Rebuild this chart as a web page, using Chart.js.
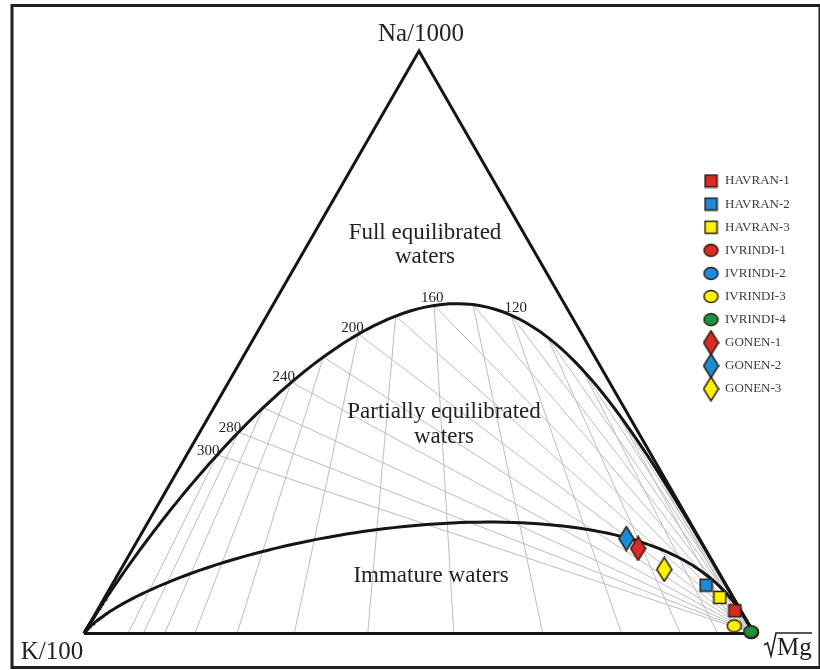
<!DOCTYPE html>
<html lang="en">
<head>
<meta charset="UTF-8">
<title>Na-K-Mg ternary diagram</title>
<script src="https://cdn.jsdelivr.net/npm/chart.js"></script>
<style>
  html, body { margin: 0; padding: 0; background: #fff; }
  canvas { display: block; }
</style>
</head>
<body>
<canvas id="ternary" width="820" height="670"></canvas>
<script>
// Samples, as percent of (Na/1000 + K/100 + sqrt(Mg))
const sampleNames = ['HAVRAN-1', 'HAVRAN-2', 'HAVRAN-3', 'IVRINDI-1', 'IVRINDI-2',
                     'IVRINDI-3', 'IVRINDI-4', 'GONEN-1', 'GONEN-2', 'GONEN-3'];
const sampleNa = [3.9, 8.3, 6.2, 0.2, 0.2, 1.3, 0.3, 14.6, 16.3, 11.0];
const sampleK  = [0.9, 3.0, 2.0, 0.3, 0.3, 2.3, 0.3, 10.0, 10.9, 7.9];
const sampleMg = [95.2, 88.7, 91.8, 99.5, 99.5, 96.4, 99.4, 75.4, 72.8, 81.1];

// isotherms (deg C) and the ones that carry a label
const isotherms = [40, 60, 80, 100, 120, 140, 160, 180, 200, 220, 240, 260, 280, 300];
const labelledTemps = [120, 160, 200, 240, 280, 300];

// Giggenbach (1988) geothermometers
//   t_kn = 1390 / (1.75 + log(Na/K)) - 273.15
//   t_km = 4410 / (14.0 - log(K2/Mg)) - 273.15
const KN_A = 1390, KN_B = 1.75, KM_A = 4410, KM_B = 14.0;
const MI_IMMATURE = 1.92;   // maturity index along the immature-waters boundary

const logNaK = t => KN_A / (t + 273.15) - KN_B;
const logK2Mg = t => KM_B - KM_A / (t + 273.15);

const H = 50 * Math.sqrt(3);
// (Na/1000, K/100, sqrtMg) -> x,y in a triangle K(0,0) Mg(100,0) Na(50,H)
function toXY(na, k, mg) {
  const s = na + k + mg;
  return { x: 100 * (mg + na / 2) / s, y: H * na / s };
}
// point for a given log(Na/K) and log(K2/Mg), taking K = 1
function fromLogs(lnk, lkm) {
  return toXY(Math.pow(10, lnk) / 1000, 1 / 100, 1 / Math.sqrt(Math.pow(10, lkm)));
}
const fullPoint = t => fromLogs(logNaK(t), logK2Mg(t));
const immaturePoint = t => fromLogs(logNaK(t), (MI_IMMATURE - logNaK(t)) / 0.315);
const kmBase = t => toXY(0, 1 / 100, 1 / Math.sqrt(Math.pow(10, logK2Mg(t))));

const vK = { x: 0, y: 0 }, vMg = { x: 100, y: 0 }, vNa = { x: 50, y: H };

const curveTemps = [];
for (let t = 6000; t > 1000; t -= 50) curveTemps.push(t);
for (let t = 1000; t > 400; t -= 10) curveTemps.push(t);
for (let t = 400; t >= 0; t -= 4) curveTemps.push(t);

// marker bitmaps, shared by the plot and the legend
function marker(shape, fill) {
  const c = document.createElement('canvas');
  const g = c.getContext('2d');
  if (shape === 'square') { c.width = 15; c.height = 15; }
  else if (shape === 'circle') { c.width = 17; c.height = 15; }
  else { c.width = 17; c.height = 26; }
  g.fillStyle = fill;
  g.strokeStyle = '#2b1e12';
  g.lineWidth = 1.5;
  g.beginPath();
  if (shape === 'square') g.rect(1.5, 1.5, 12, 12);
  else if (shape === 'circle') g.ellipse(8.5, 7.5, 7, 6, 0, 0, Math.PI * 2);
  else { g.moveTo(8.5, 1); g.lineTo(16, 13); g.lineTo(8.5, 25); g.lineTo(1, 13); g.closePath(); }
  g.fill();
  g.stroke();
  return c;
}
const RED = '#dc2a25', BLUE = '#1c8bd8', YELLOW = '#fff200', GREEN = '#1a9340';
const markers = [
  marker('square', RED), marker('square', BLUE), marker('square', YELLOW),
  marker('circle', RED), marker('circle', BLUE), marker('circle', YELLOW), marker('circle', GREEN),
  marker('diamond', RED), marker('diamond', BLUE), marker('diamond', YELLOW)
];

const line = (data, color, width, order, join) => ({
  data, showLine: true, borderColor: color, borderWidth: width,
  borderJoinStyle: join || 'round', borderCapStyle: 'butt',
  pointRadius: 0, fill: false, clip: false, order
});

const datasets = [];
isotherms.forEach(t => {
  const p = fullPoint(t);
  datasets.push(line([p, kmBase(t)], '#bdbdbd', 1, 40));
  datasets.push(line([p, vMg], '#bdbdbd', 1, 40));
});
datasets.push(line([vK, ...curveTemps.map(fullPoint), vMg], '#151515', 3, 20));
datasets.push(line([vK, ...curveTemps.map(immaturePoint), vMg], '#151515', 3, 20));
datasets.push(line([vK, vMg, vNa, vK], '#151515', 3, 15, 'miter'));
sampleNames.forEach((name, i) => {
  datasets.push({
    label: name,
    data: [toXY(sampleNa[i], sampleK[i], sampleMg[i])],
    pointStyle: markers[i],
    pointRadius: 8,
    clip: false,
    order: name === 'IVRINDI-4' ? 0 : 1
  });
});

const decorations = {
  id: 'decorations',
  beforeDraw(chart) {
    const ctx = chart.ctx;
    ctx.save();
    ctx.fillStyle = '#fff';
    ctx.fillRect(0, 0, chart.width, chart.height);
    ctx.restore();
  },
  afterDraw(chart) {
    const { ctx } = chart;
    const sx = chart.scales.x, sy = chart.scales.y;
    const px = p => ({ x: sx.getPixelForValue(p.x), y: sy.getPixelForValue(p.y) });
    ctx.save();

    // frame
    ctx.strokeStyle = '#231f20';
    ctx.lineWidth = 3;
    ctx.strokeRect(12, 5.5, 808, 662);

    // apex labels
    ctx.fillStyle = '#231f20';
    ctx.font = '25px "Liberation Serif"';
    ctx.textBaseline = 'alphabetic';
    ctx.textAlign = 'center';
    ctx.fillText('Na/1000', 421, 41);
    ctx.fillText('K/100', 52, 659);
    ctx.textAlign = 'left';
    ctx.fillText('Mg', 777, 655);
    ctx.lineWidth = 1.5;
    ctx.beginPath();
    ctx.moveTo(764, 645);
    ctx.lineTo(767.5, 643);
    ctx.lineTo(771, 656);
    ctx.lineTo(776, 633);
    ctx.lineTo(812, 633);
    ctx.stroke();

    // field names
    ctx.font = '23px "Liberation Serif"';
    ctx.textAlign = 'center';
    ctx.fillText('Full equilibrated', 425, 239);
    ctx.fillText('waters', 425, 263);
    ctx.fillText('Partially equilibrated', 444, 418);
    ctx.fillText('waters', 444, 443);
    ctx.fillText('Immature waters', 431, 582);

    // temperature labels, set just outside the full equilibrium curve
    ctx.font = '15px "Liberation Serif"';
    ctx.textBaseline = 'middle';
    labelledTemps.forEach(t => {
      const p = px(fullPoint(t));
      const a = px(fullPoint(t + 1)), b = px(fullPoint(t - 1));
      let dx = b.x - a.x, dy = b.y - a.y;
      const len = Math.hypot(dx, dy);
      dx /= len; dy /= len;
      ctx.fillText(String(t), p.x + dy * 12, p.y - dx * 12 + 4);
    });

    // legend
    ctx.font = '13px "Liberation Serif"';
    ctx.textAlign = 'left';
    ctx.fillStyle = '#3a3a3a';
    sampleNames.forEach((name, i) => {
      const y = 181 + 23.1 * i;
      const m = markers[i];
      ctx.drawImage(m, 711 - m.width / 2, y - m.height / 2);
      ctx.fillText(name, 725, y);
    });
    ctx.restore();
  }
};

new Chart(document.getElementById('ternary'), {
  type: 'scatter',
  data: { datasets },
  options: {
    responsive: false,
    animation: false,
    layout: { padding: { left: 84, right: 66, top: 51, bottom: 36.5 } },
    scales: {
      x: { type: 'linear', min: 0, max: 100, display: false },
      y: { type: 'linear', min: 0, max: H, display: false }
    },
    plugins: {
      legend: { display: false },
      tooltip: { enabled: false }
    }
  },
  plugins: [decorations]
});
</script>
</body>
</html>
